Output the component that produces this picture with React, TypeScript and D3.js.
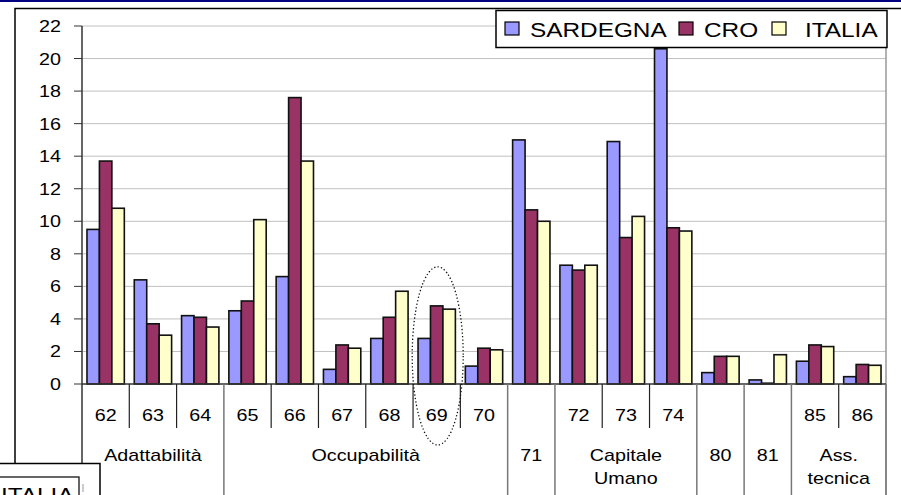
import React, { useEffect, useRef } from 'react';
import * as d3 from 'd3';

const categories = ['62', '63', '64', '65', '66', '67', '68', '69', '70', '71', '72', '73', '74', '80', '81', '85', '86'];
const sardegna = [9.5, 6.4, 4.2, 4.5, 6.6, 0.9, 2.8, 2.8, 1.1, 15.0, 7.3, 14.9, 20.6, 0.7, 0.25, 1.4, 0.45];
const cro = [13.7, 3.7, 4.1, 5.1, 17.6, 2.4, 4.1, 4.8, 2.2, 10.7, 7.0, 9.0, 9.6, 1.7, 0.05, 2.4, 1.2];
const italia = [10.8, 3.0, 3.5, 10.1, 13.7, 2.2, 5.7, 4.6, 2.1, 10.0, 7.3, 10.3, 9.4, 1.7, 1.8, 2.3, 1.15];
const seriesNames = ['SARDEGNA', 'CRO', 'ITALIA'];
const seriesColors = ['#9999ff', '#993366', '#ffffcc'];
const yTicks = [0, 2, 4, 6, 8, 10, 12, 14, 16, 18, 20, 22];
const groupLabels = [['Adattabilità'], ['Occupabilità'], ['71'], ['Capitale', 'Umano'], ['80'], ['81'], ['Ass.', 'tecnica']];
const groupCats = [['62', '63', '64'], ['65', '66', '67', '68', '69', '70'], ['71'], ['72', '73', '74'], ['80'], ['81'], ['85', '86']];

const FONT = '"Liberation Sans", Arial, sans-serif';
const STRETCH = 1.16;

function App() {
  const svgRef = useRef<SVGSVGElement>(null);

  useEffect(() => {
    const svg = d3.select(svgRef.current);
    svg.selectAll('*').remove();

    // text drawn a little wider than the font, like the source picture
    const label = (g: any, tx: number, ty: number, t: string | number, size: number, anchor = 'start') =>
      g.append('text')
        .attr('transform', `translate(${tx},${ty}) scale(${STRETCH},1)`)
        .attr('text-anchor', anchor)
        .style('font-family', FONT).style('font-size', size + 'px').attr('fill', '#000')
        .text(t);

    const left = 82, right = 886, top = 26, bottom = 384;
    const x = d3.scaleBand().domain(categories).range([left, right]);
    const inner = d3.scaleBand().domain(seriesNames).range([0, x.bandwidth()]).paddingOuter(0.4);
    const y = d3.scaleLinear().domain([0, 22]).range([bottom, top]);

    // page decoration
    svg.append('rect').attr('x', 0).attr('y', 0).attr('width', 901).attr('height', 2).attr('fill', '#000080');
    svg.append('path').attr('d', 'M15,463V8.5H901').attr('fill', 'none').attr('stroke', '#000').attr('stroke-width', 1.5);

    // gridlines
    svg.append('g').selectAll('line').data(yTicks.filter(d => d > 0)).enter().append('line')
      .attr('x1', left).attr('x2', right).attr('y1', d => y(d)).attr('y2', d => y(d))
      .attr('stroke', '#c0c0c0').attr('stroke-width', 1);
    svg.append('line').attr('x1', right).attr('x2', right).attr('y1', top).attr('y2', 495)
      .attr('stroke', '#999').attr('stroke-width', 1.5);

    // y axis
    const ya = svg.append('g');
    ya.append('line').attr('x1', left).attr('x2', left).attr('y1', top).attr('y2', 495).attr('stroke', '#333').attr('stroke-width', 1.5);
    ya.selectAll('.tk').data(yTicks).enter().append('line')
      .attr('x1', left - 8).attr('x2', left).attr('y1', d => y(d)).attr('y2', d => y(d)).attr('stroke', '#333');
    yTicks.forEach(d => label(ya, 61, y(d) + 6, d, 17, 'end'));

    // bars
    const values = [sardegna, cro, italia];
    seriesNames.forEach((s, si) => {
      svg.append('g').selectAll('rect').data(values[si]).enter().append('rect')
        .attr('x', (d, i) => (x(categories[i]) as number) + (inner(s) as number))
        .attr('y', d => y(d))
        .attr('width', inner.bandwidth())
        .attr('height', d => bottom - y(d))
        .attr('fill', seriesColors[si])
        .attr('stroke', '#111').attr('stroke-width', 1.6);
    });

    // x axis line
    svg.append('line').attr('x1', left).attr('x2', right).attr('y1', bottom).attr('y2', bottom).attr('stroke', '#333').attr('stroke-width', 1.5);

    // category axis (two levels)
    const ax = svg.append('g');
    groupCats.forEach((cats, gi) => {
      const gx0 = x(cats[0]) as number;
      const gx1 = (x(cats[cats.length - 1]) as number) + x.bandwidth();
      ax.append('line').attr('x1', gx1).attr('x2', gx1).attr('y1', bottom).attr('y2', 495).attr('stroke', '#777').attr('stroke-width', 1.5);
      if (cats.length > 1) {
        cats.forEach((c, ci) => {
          const cx = x(c) as number;
          if (ci > 0) {
            ax.append('line').attr('x1', cx).attr('x2', cx).attr('y1', bottom).attr('y2', 428).attr('stroke', '#222').attr('stroke-width', 1.2);
          }
          label(ax, cx + x.bandwidth() / 2, 421, c, 17, 'middle');
        });
      }
      groupLabels[gi].forEach((t, li) => {
        label(ax, (gx0 + gx1) / 2, 461 + li * 23, t, 17, 'middle');
      });
    });

    // dotted ellipse around 69
    const c69 = (x('69') as number) + x.bandwidth() / 2;
    svg.append('ellipse').attr('cx', c69 + 1).attr('cy', (y(7.2) + 445) / 2).attr('rx', 25.5).attr('ry', (445 - y(7.2)) / 2)
      .attr('fill', 'none').attr('stroke', '#111').attr('stroke-width', 1.3).attr('stroke-dasharray', '1.3,2.2');

    // legend
    const lg = svg.append('g');
    lg.append('rect').attr('x', 496).attr('y', 10.5).attr('width', 391).attr('height', 37).attr('fill', '#fff').attr('stroke', '#000').attr('stroke-width', 1.5);
    const lx = [505, 679, 772];
    const tx = [530, 704, 805];
    seriesNames.forEach((s, i) => {
      lg.append('rect').attr('x', lx[i]).attr('y', 22).attr('width', 14).attr('height', 13)
        .attr('fill', seriesColors[i]).attr('stroke', '#000').attr('stroke-width', 1.2);
      label(lg, tx[i], 36.5, s, 21);
    });

    // stray legend fragment at bottom left
    svg.append('rect').attr('x', -2).attr('y', 463.5).attr('width', 102).attr('height', 40).attr('fill', '#fff').attr('stroke', '#000').attr('stroke-width', 1.5);
    svg.append('rect').attr('x', -2).attr('y', 477).attr('width', 81).attr('height', 30).attr('fill', '#fff').attr('stroke', '#000').attr('stroke-width', 1.2);
    label(svg, 1, 502, 'ITALIA', 21);
    svg.append('line').attr('x1', 83).attr('x2', 83).attr('y1', 484).attr('y2', 492).attr('stroke', '#999');
  }, []);

  return (
    <svg ref={svgRef} width={901} height={495} style={{ position: 'absolute', left: 0, top: 0, background: '#fff' }}></svg>
  );
}

export default App;
